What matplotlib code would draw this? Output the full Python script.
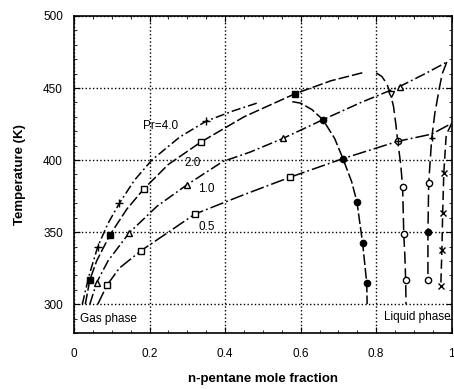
import numpy as np
import matplotlib
matplotlib.use('Agg')
import matplotlib.pyplot as plt

plt.rcParams['font.family'] = ['Liberation Sans', 'DejaVu Sans']

# Pr = 4.0 (gas side and liquid side)
x_dew_40 = [0.022, 0.04, 0.063, 0.09, 0.12, 0.16, 0.206, 0.28, 0.35, 0.42, 0.49]
T_dew_40 = [300, 320, 340, 356, 370, 386, 400, 416, 427, 434, 440]
x_bub_40 = [0.578, 0.60, 0.63, 0.659, 0.69, 0.712, 0.735, 0.749, 0.764, 0.775, 0.776]
T_bub_40 = [440.5, 439.5, 435, 428, 415, 401, 385, 371, 342.5, 314.6, 300]

# Pr = 2.0
x_dew_20 = [0.03, 0.042, 0.06, 0.095, 0.14, 0.185, 0.25, 0.336, 0.45, 0.585, 0.68, 0.77]
T_dew_20 = [300, 317, 330, 348, 366, 380, 397, 412.5, 430, 446, 455, 461]
x_bub_20 = [0.80, 0.815, 0.828, 0.838, 0.846, 0.852, 0.857, 0.865, 0.87, 0.873, 0.876, 0.878, 0.879]
T_bub_20 = [460.5, 458, 453, 446, 437, 425, 413, 397, 381, 349, 333, 317, 300]

# Pr = 1.0
x_dew_10 = [0.042, 0.06, 0.09, 0.146, 0.22, 0.30, 0.394, 0.466, 0.553, 0.659, 0.76, 0.862, 0.93, 0.987]
T_dew_10 = [300, 315, 330, 349.5, 368, 383, 399, 405.5, 415, 428, 440, 451, 460, 468]
x_bub_10 = [0.987, 0.975, 0.968, 0.955, 0.947, 0.939, 0.937, 0.937]
T_bub_10 = [468, 460, 451, 432, 415, 384, 350, 317]

# Pr = 0.5
x_dew_05 = [0.063, 0.087, 0.12, 0.177, 0.25, 0.32, 0.45, 0.571, 0.712, 0.857, 0.947, 1.0]
T_dew_05 = [300, 313, 325, 337, 350, 362.5, 376, 388, 401, 413, 418, 425.5]
x_bub_05 = [1.0, 0.99, 0.985, 0.979, 0.976, 0.974, 0.971]
T_bub_05 = [425.5, 420, 416, 391, 363, 337.5, 312.5]

# marker points
x_plus_40 = [0.063, 0.12, 0.35]
T_plus_40 = [340, 370, 427]
x_fsq_20 = [0.042, 0.095, 0.585]
T_fsq_20 = [317, 348, 446]
x_osq_20 = [0.185, 0.336]
T_osq_20 = [380, 412.5]
x_tri_10 = [0.06, 0.146, 0.30, 0.553, 0.862]
T_tri_10 = [315, 349.5, 383, 415, 451]
x_vtri = [0.84]
T_vtri = [446]
x_sq_05 = [0.087, 0.177, 0.32, 0.571]
T_sq_05 = [313, 337, 362.5, 388]
x_fci = [0.659, 0.712, 0.749, 0.764, 0.775, 0.937]
T_fci = [428, 401, 371, 342.5, 314.6, 350]
x_oci = [0.857, 0.87, 0.873, 0.878, 0.939, 0.937]
T_oci = [413, 381, 349, 317, 384, 317]
x_cross = [0.979, 0.976, 0.974, 0.971]
T_cross = [391, 363, 337.5, 312.5]
x_plus_b = [0.857, 0.947]
T_plus_b = [413, 415]

fig = plt.figure(figsize=(4.54, 3.89), dpi=100)
ax = fig.add_axes([0.163, 0.144, 0.832, 0.815])

k = 'black'
ax.plot(x_dew_40, T_dew_40, color=k, lw=1.1, dashes=(6, 2, 1.2, 2))
ax.plot(x_bub_40, T_bub_40, color=k, lw=1.1, dashes=(7, 2))
ax.plot(x_dew_20, T_dew_20, color=k, lw=1.1, dashes=(7, 2))
ax.plot(x_bub_20, T_bub_20, color=k, lw=1.1, dashes=(8, 3))
ax.plot(x_dew_10, T_dew_10, color=k, lw=1.1, dashes=(7, 2, 1.2, 2))
ax.plot(x_bub_10, T_bub_10, color=k, lw=1.1, dashes=(8, 3))
ax.plot(x_dew_05, T_dew_05, color=k, lw=1.1, dashes=(9, 2, 1.2, 2))
ax.plot(x_bub_05, T_bub_05, color=k, lw=1.1, dashes=(6, 3))

ax.plot(x_plus_40, T_plus_40, ls='none', marker='+', ms=6, mew=1.0, color=k)
ax.plot(x_fsq_20, T_fsq_20, ls='none', marker='s', ms=5, mfc=k, mec=k)
ax.plot(x_osq_20, T_osq_20, ls='none', marker='s', ms=5, mfc='white', mec=k, mew=1.0)
ax.plot(x_tri_10, T_tri_10, ls='none', marker='^', ms=5, mfc='white', mec=k, mew=1.0)
ax.plot(x_vtri, T_vtri, ls='none', marker='v', ms=5, mfc='white', mec=k, mew=1.0)
ax.plot(x_sq_05, T_sq_05, ls='none', marker='s', ms=5, mfc='white', mec=k, mew=1.0)
ax.plot(x_fci, T_fci, ls='none', marker='o', ms=4.5, mfc=k, mec=k)
ax.plot(x_oci, T_oci, ls='none', marker='o', ms=4.5, mfc='white', mec=k, mew=1.0)
ax.plot(x_plus_b, T_plus_b, ls='none', marker='+', ms=5, mew=1.0, color=k)
ax.plot(x_cross, T_cross, ls='none', marker='x', ms=4.5, mew=1.0, color=k)

ax.text(0.23, 423.6, 'Pr=4.0', fontsize=8.5, ha='center', va='center')
ax.text(0.315, 398, '2.0', fontsize=8.5, ha='center', va='center')
ax.text(0.349, 380, '1.0', fontsize=8.5, ha='center', va='center')
ax.text(0.352, 353.5, '0.5', fontsize=8.5, ha='center', va='center')
ax.text(0.016, 290, 'Gas phase', fontsize=8.5, ha='left', va='center')
ax.text(0.997, 291, 'Liquid phase', fontsize=8.5, ha='right', va='center')

ax.set_xlim(0, 1)
ax.set_ylim(280, 500)
ax.set_xticks([0, 0.2, 0.4, 0.6, 0.8, 1])
ax.set_xticklabels(['0', '0.2', '0.4', '0.6', '0.8', '1'])
ax.set_yticks([300, 350, 400, 450, 500])
ax.set_xticks(np.arange(0, 1.001, 0.05), minor=True)
ax.set_yticks(np.arange(280, 501, 10), minor=True)
ax.tick_params(which='both', direction='in', top=True, right=True, labelsize=8.5)
ax.tick_params(axis='x', pad=11)
ax.tick_params(axis='y', pad=8)
ax.tick_params(which='major', length=4)
ax.tick_params(which='minor', length=2)
ax.grid(True, which='major', color=k, ls=':', lw=1.0)
for s in ax.spines.values():
    s.set_linewidth(1.2)

ax.set_xlabel('n-pentane mole fraction', fontsize=9.5, fontweight='bold', labelpad=9)
ax.set_ylabel('Temperature (K)', fontsize=9.5, fontweight='bold', labelpad=12)

plt.savefig('out.png', dpi=100)
